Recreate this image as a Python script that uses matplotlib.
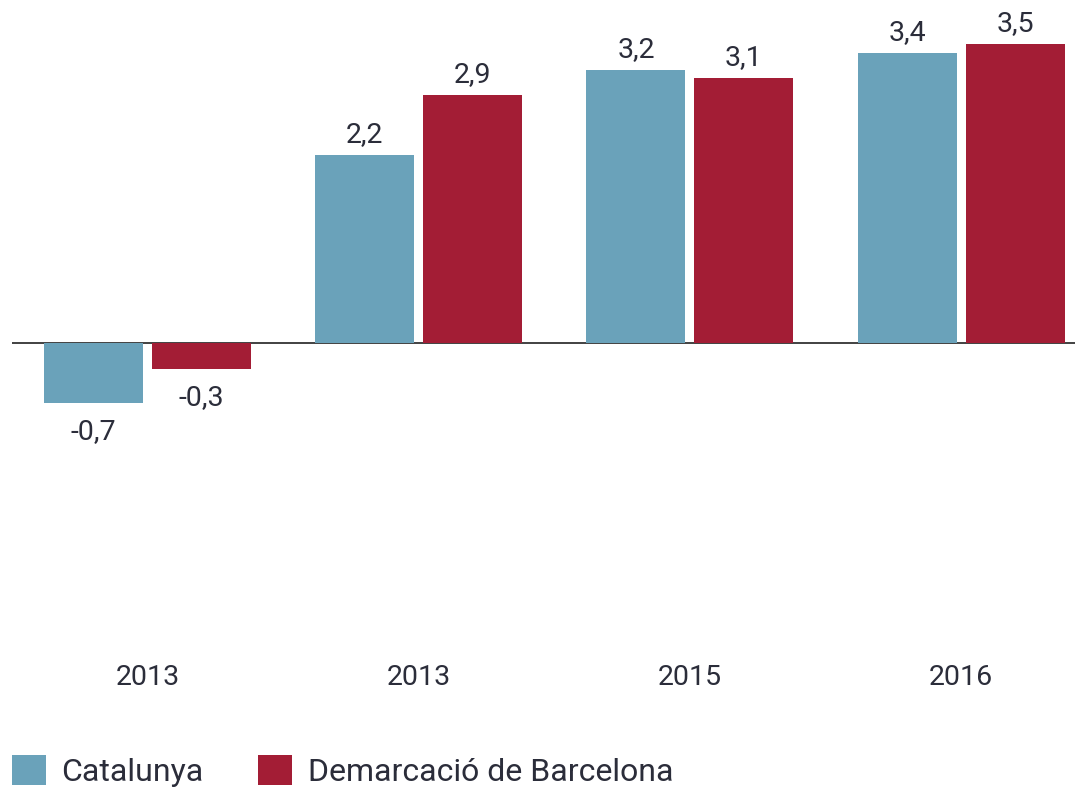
import numpy as np
import matplotlib.pyplot as plt

years = ["2013", "2013", "2015", "2016"]
catalunya = [-0.7, 2.2, 3.2, 3.4]
barcelona = [-0.3, 2.9, 3.1, 3.5]
labels_cat = ["-0,7", "2,2", "3,2", "3,4"]
labels_bcn = ["-0,3", "2,9", "3,1", "3,5"]

blue = "#6aa2ba"
red = "#a31d35"
txt = "#2b2d3a"

plt.rcParams['font.family'] = ['Roboto', 'DejaVu Sans']

fig = plt.figure(figsize=(10.75, 7.87), dpi=100)
ax = fig.add_axes([12/1075, 0, 1063/1075, 1])

x = np.arange(len(years))
w = 0.365
off = 0.199
b1 = ax.bar(x - off, catalunya, w, color=blue, label="Catalunya")
b2 = ax.bar(x + off, barcelona, w, color=red, label="Demarcació de Barcelona")

fs = 20.5
for bars, labs in ((b1, labels_cat), (b2, labels_bcn)):
    for rect, lab in zip(bars, labs):
        h = rect.get_height()
        cx = rect.get_x() + rect.get_width() / 2
        if h >= 0:
            ax.annotate(lab, (cx, h), xytext=(0, 5), textcoords="offset points",
                        ha="center", va="bottom", fontsize=fs, color=txt)
        else:
            ax.annotate(lab, (cx, h), xytext=(0, -11), textcoords="offset points",
                        ha="center", va="top", fontsize=fs, color=txt)

for xi, yr in zip(x, years):
    ax.text(xi, -3.92, yr, ha="center", va="center", fontsize=fs, color=txt)

ax.axhline(0, color="#333333", lw=1.3, zorder=0)
ax.set_xlim(-0.5, 3.42)
ax.set_ylim(-5.199, 4.016)
ax.axis("off")

fig.legend(loc="lower left", bbox_to_anchor=(12/1075, 0.0), ncol=2, frameon=False,
           fontsize=23, handlelength=1.05, handleheight=1.05, handletextpad=0.5,
           columnspacing=1.7, borderaxespad=0.0, borderpad=0.0,
           labelcolor=txt)

fig.savefig("out.png", dpi=100)
